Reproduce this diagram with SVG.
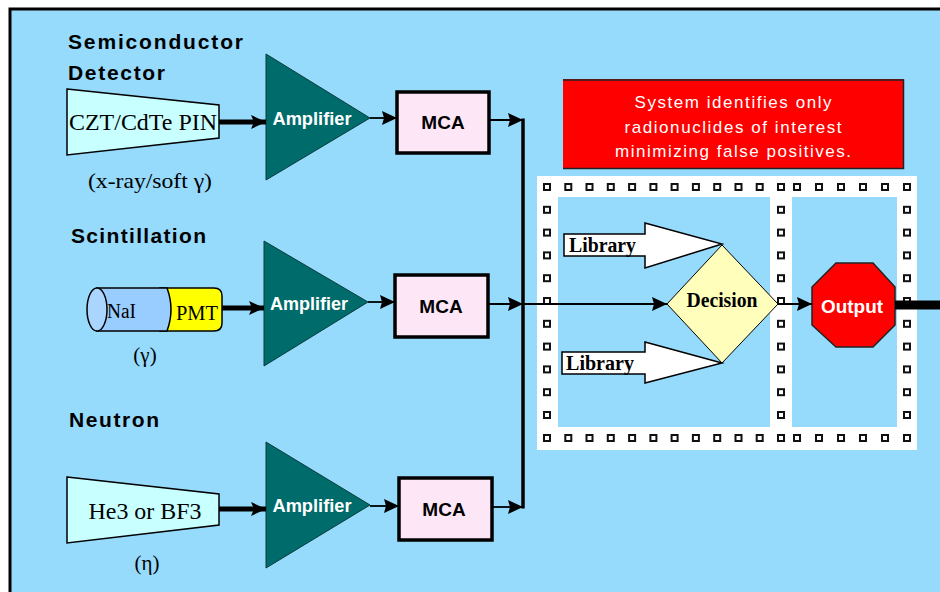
<svg xmlns="http://www.w3.org/2000/svg" xmlns:xlink="http://www.w3.org/1999/xlink" width="940" height="592" viewBox="0 0 940 592">
<defs>
<style>
.h{font-family:"Liberation Sans",Arial,sans-serif;font-weight:bold;font-size:21px;fill:#000}
.ser{font-family:"Liberation Serif","Times New Roman",serif;fill:#000}
.amp{fill:#006b6b;stroke:#0b3b3b;stroke-width:1}
.ampt{font-family:"Liberation Sans",Arial,sans-serif;font-weight:bold;font-size:18px;fill:#fff;text-anchor:middle}
.mca{fill:#fde6f6;stroke:#000;stroke-width:3.5}
.mcat{font-family:"Liberation Sans",Arial,sans-serif;font-weight:bold;font-size:19px;fill:#000;text-anchor:middle}
.trap{fill:#c8ffff;stroke:#000;stroke-width:1.5}
.thick{stroke:#000;stroke-width:5;fill:none}
.thin{stroke:#000;stroke-width:1.8;fill:none}
.sq{fill:#fff;stroke:#111;stroke-width:2}
.lib{fill:#fff;stroke:#000;stroke-width:1.5}
.libt{font-family:"Liberation Serif","Times New Roman",serif;font-weight:bold;font-size:20px;fill:#000}
.red{font-family:"Liberation Sans",Arial,sans-serif;font-size:17px;fill:#fff;text-anchor:middle}
</style>
<marker id="ah" markerUnits="userSpaceOnUse" markerWidth="16" markerHeight="14" refX="15" refY="7" orient="auto">
<path d="M0,0 L15,7 L0,14 L3,7 z" fill="#000"/>
</marker>
<marker id="ahs" markerUnits="userSpaceOnUse" markerWidth="16" markerHeight="14" refX="15" refY="7" orient="auto">
<path d="M0,0 L15,7 L0,14 L2,7 z" fill="#000"/>
</marker>
<rect id="s" x="-3" y="-3" width="6" height="6" class="sq"/>
</defs>

<rect x="0" y="0" width="940" height="592" fill="#fff"/>
<rect x="10" y="9" width="940" height="600" fill="#96dafc" stroke="#000" stroke-width="3"/>

<!-- Semiconductor detector -->
<g id="semiconductor">
<text class="h" x="68" y="49" textLength="175" lengthAdjust="spacing">Semiconductor</text>
<text class="h" x="68" y="80" textLength="97" lengthAdjust="spacing">Detector</text>
<polygon class="trap" points="67,89 219,105 219,138 67,155"/>
<text class="ser" x="143" y="130" font-size="23" text-anchor="middle" textLength="148" lengthAdjust="spacingAndGlyphs">CZT/CdTe PIN</text>
<text class="ser" x="150" y="188" font-size="21" text-anchor="middle" textLength="124" lengthAdjust="spacingAndGlyphs">(x-ray/soft γ)</text>
</g>

<g id="amplifier1">
<polygon class="amp" points="266,54 370,118 266,180"/>
<text class="ampt" x="312" y="125" textLength="79" lengthAdjust="spacingAndGlyphs">Amplifier</text>
</g>
<g id="mca1">
<rect class="mca" x="397" y="92" width="92" height="61"/>
<text class="mcat" x="443" y="129">MCA</text>
</g>

<!-- Scintillation -->
<g id="scintillation">
<text class="h" x="71" y="243" textLength="135" lengthAdjust="spacing">Scintillation</text>
<path d="M160,288 L214,288 Q222,288 222,296 L222,323 Q222,331 214,331 L160,331 z" fill="#ffff00" stroke="#000" stroke-width="1.5"/>
<path d="M97,288 L167,288 Q175,309.5 167,331 L97,331 z" fill="#99ccff" stroke="#000" stroke-width="1.5"/>
<ellipse cx="97" cy="309.5" rx="10" ry="21.5" fill="#aad5ff" stroke="#000" stroke-width="1.5"/>
<text class="ser" x="107" y="318" font-size="20" textLength="29" lengthAdjust="spacingAndGlyphs">NaI</text>
<text class="ser" x="176" y="320" font-size="20" textLength="42" lengthAdjust="spacingAndGlyphs">PMT</text>
<text class="ser" x="145" y="362" font-size="21" text-anchor="middle">(γ)</text>
</g>

<g id="amplifier2">
<polygon class="amp" points="264,241 368,302 264,366"/>
<text class="ampt" x="309" y="310" textLength="78" lengthAdjust="spacingAndGlyphs">Amplifier</text>
</g>
<g id="mca2">
<rect class="mca" x="395" y="275" width="93" height="62"/>
<text class="mcat" x="441" y="313">MCA</text>
</g>

<!-- Neutron -->
<g id="neutron">
<text class="h" x="69" y="427" textLength="90" lengthAdjust="spacing">Neutron</text>
<polygon class="trap" points="67,477 219,494 219,525 67,543"/>
<text class="ser" x="145" y="519" font-size="23" text-anchor="middle" textLength="113" lengthAdjust="spacingAndGlyphs">He3 or BF3</text>
<text class="ser" x="147" y="570" font-size="21" text-anchor="middle">(η)</text>
</g>

<g id="amplifier3">
<polygon class="amp" points="266,442 370,505 266,568"/>
<text class="ampt" x="312" y="512" textLength="79" lengthAdjust="spacingAndGlyphs">Amplifier</text>
</g>
<g id="mca3">
<rect class="mca" x="399" y="478" width="93" height="62"/>
<text class="mcat" x="444" y="516">MCA</text>
</g>

<!-- Red note -->
<g id="note">
<rect x="563" y="79" width="341" height="90" fill="#ff0000"/>
<path d="M563,80 L903.5,80 L903.5,168.5 L563,168.5" fill="none" stroke="#222" stroke-width="1.5"/>
<text class="red" x="733" y="108" textLength="197" lengthAdjust="spacing">System identifies only</text>
<text class="red" x="733" y="133" textLength="217" lengthAdjust="spacing">radionuclides of interest</text>
<text class="red" x="733" y="157" textLength="236" lengthAdjust="spacing">minimizing false positives.</text>
</g>

<!-- Frame -->
<g id="frame">
<rect x="537" y="176" width="380" height="274" fill="#fff"/>
<rect x="558" y="197" width="212" height="230" fill="#96dafc"/>
<rect x="792" y="197" width="105" height="230" fill="#96dafc"/>
<g id="dots">
<use href="#s" x="547" y="187"/><use href="#s" x="568.3" y="187"/><use href="#s" x="589.5" y="187"/><use href="#s" x="610.8" y="187"/><use href="#s" x="632.1" y="187"/><use href="#s" x="653.4" y="187"/><use href="#s" x="674.6" y="187"/><use href="#s" x="695.9" y="187"/><use href="#s" x="717.2" y="187"/><use href="#s" x="738.5" y="187"/><use href="#s" x="759.7" y="187"/><use href="#s" x="781" y="187"/>
<use href="#s" x="797" y="187"/><use href="#s" x="819" y="187"/><use href="#s" x="841" y="187"/><use href="#s" x="863" y="187"/><use href="#s" x="885" y="187"/><use href="#s" x="907" y="187"/>
<use href="#s" x="547" y="438"/><use href="#s" x="568.3" y="438"/><use href="#s" x="589.5" y="438"/><use href="#s" x="610.8" y="438"/><use href="#s" x="632.1" y="438"/><use href="#s" x="653.4" y="438"/><use href="#s" x="674.6" y="438"/><use href="#s" x="695.9" y="438"/><use href="#s" x="717.2" y="438"/><use href="#s" x="738.5" y="438"/><use href="#s" x="759.7" y="438"/><use href="#s" x="781" y="438"/>
<use href="#s" x="797" y="438"/><use href="#s" x="819" y="438"/><use href="#s" x="841" y="438"/><use href="#s" x="863" y="438"/><use href="#s" x="885" y="438"/><use href="#s" x="907" y="438"/>
<use href="#s" x="547" y="209.8"/><use href="#s" x="547" y="232.6"/><use href="#s" x="547" y="255.4"/><use href="#s" x="547" y="278.2"/><use href="#s" x="547" y="301"/><use href="#s" x="547" y="323.8"/><use href="#s" x="547" y="346.6"/><use href="#s" x="547" y="369.4"/><use href="#s" x="547" y="392.2"/><use href="#s" x="547" y="415"/>
<use href="#s" x="781" y="209.8"/><use href="#s" x="781" y="232.6"/><use href="#s" x="781" y="255.4"/><use href="#s" x="781" y="278.2"/><use href="#s" x="781" y="301"/><use href="#s" x="781" y="323.8"/><use href="#s" x="781" y="346.6"/><use href="#s" x="781" y="369.4"/><use href="#s" x="781" y="392.2"/><use href="#s" x="781" y="415"/>
<use href="#s" x="907" y="209.8"/><use href="#s" x="907" y="232.6"/><use href="#s" x="907" y="255.4"/><use href="#s" x="907" y="278.2"/><use href="#s" x="907" y="301"/><use href="#s" x="907" y="323.8"/><use href="#s" x="907" y="346.6"/><use href="#s" x="907" y="369.4"/><use href="#s" x="907" y="392.2"/><use href="#s" x="907" y="415"/>
</g>
</g>

<g id="library1">
<polygon class="lib" points="564,234 645,234 645,223 722,244 645,268 645,256 564,256"/>
<text class="libt" x="569" y="252" textLength="67" lengthAdjust="spacingAndGlyphs">Library</text>
</g>
<g id="library2">
<polygon class="lib" points="562,352 645,352 645,342 722,363 645,383 645,374 562,374"/>
<text class="libt" x="566" y="370" textLength="68" lengthAdjust="spacingAndGlyphs">Library</text>
</g>

<g id="decision">
<polygon points="722,245 778,304 722,363 667,304" fill="#ffffbb" stroke="#000" stroke-width="1"/>
<text class="libt" x="722" y="307" text-anchor="middle" textLength="71" lengthAdjust="spacingAndGlyphs">Decision</text>
</g>

<g id="output">
<polygon points="836,263 873,263 895,287 895,325 873,347 836,347 812,325 812,287" fill="#ff0000" stroke="#222" stroke-width="1.5"/>
<text x="852" y="313" font-family="'Liberation Sans',Arial,sans-serif" font-weight="bold" font-size="18" fill="#fff" text-anchor="middle" textLength="62" lengthAdjust="spacingAndGlyphs">Output</text>
</g>

<!-- Connectors -->
<g id="connectors">
<line class="thick" x1="219" y1="122" x2="266" y2="122" marker-end="url(#ah)"/>
<line class="thick" x1="222" y1="308" x2="264" y2="308" marker-end="url(#ah)"/>
<line class="thick" x1="219" y1="509" x2="266" y2="509" marker-end="url(#ah)"/>
<line class="thin" x1="370" y1="118" x2="397" y2="118" marker-end="url(#ahs)"/>
<line class="thin" x1="368" y1="302" x2="395" y2="302" marker-end="url(#ahs)"/>
<line class="thin" x1="370" y1="506" x2="399" y2="506" marker-end="url(#ahs)"/>
<line class="thin" x1="489" y1="120" x2="523" y2="120" marker-end="url(#ahs)"/>
<line class="thin" x1="488" y1="304" x2="523" y2="304" marker-end="url(#ahs)"/>
<line class="thin" x1="492" y1="507" x2="523" y2="507" marker-end="url(#ahs)"/>
<line x1="523" y1="118.5" x2="523" y2="508.5" stroke="#000" stroke-width="3.5"/>
<line class="thin" x1="523" y1="304" x2="667" y2="304" marker-end="url(#ahs)"/>
<line class="thin" x1="778" y1="304" x2="812" y2="304" marker-end="url(#ahs)"/>
<line x1="895" y1="305" x2="940" y2="305" stroke="#000" stroke-width="9"/>
</g>
</svg>
